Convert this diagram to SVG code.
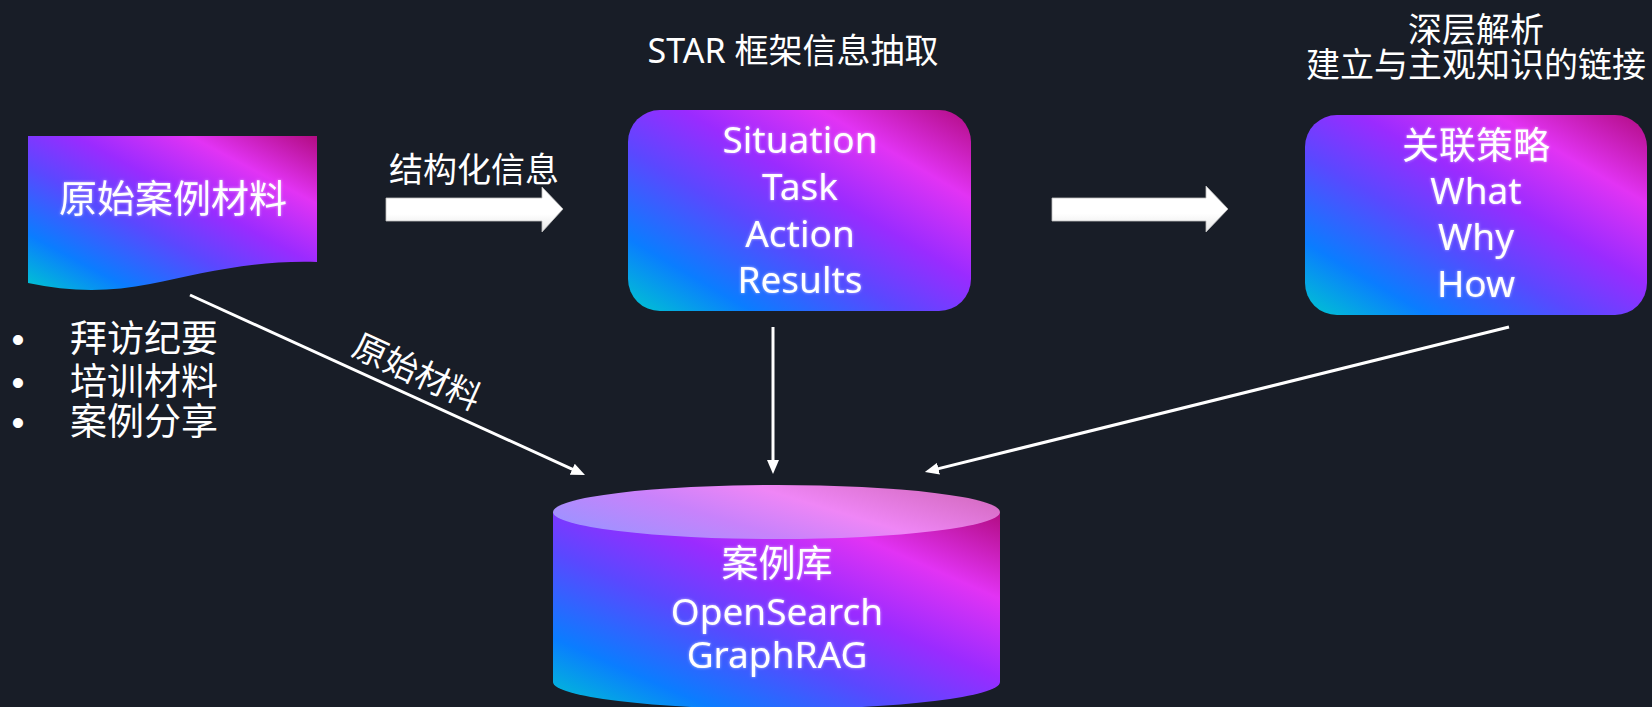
<svg xmlns="http://www.w3.org/2000/svg" width="1652" height="707" viewBox="0 0 1652 707">
<defs>
<linearGradient id="grad" x1="0" y1="1" x2="1" y2="0">
<stop offset="0" stop-color="#00c6cf"/>
<stop offset="0.18" stop-color="#0a7dff"/>
<stop offset="0.40" stop-color="#5a48ff"/>
<stop offset="0.58" stop-color="#9a2bff"/>
<stop offset="0.78" stop-color="#e233f4"/>
<stop offset="1" stop-color="#b20c82"/>
</linearGradient>
<linearGradient id="topgrad" x1="0" y1="0.7" x2="1" y2="0.3">
<stop offset="0" stop-color="#9c93ff"/>
<stop offset="0.35" stop-color="#c882fb"/>
<stop offset="0.62" stop-color="#ef86f6"/>
<stop offset="1" stop-color="#d56cc2"/>
</linearGradient>
<linearGradient id="blk" x1="0" y1="0" x2="0" y2="1">
<stop offset="0" stop-color="#ffffff"/>
<stop offset="0.6" stop-color="#ffffff"/>
<stop offset="1" stop-color="#e6e6e6"/>
</linearGradient>
<filter id="glow" x="-10%" y="-30%" width="120%" height="160%">
<feGaussianBlur in="SourceAlpha" stdDeviation="1.6" result="b"/>
<feFlood flood-color="#ffffff" flood-opacity="0.55"/>
<feComposite in2="b" operator="in" result="g"/>
<feMerge><feMergeNode in="g"/><feMergeNode in="SourceGraphic"/></feMerge>
</filter>
<marker id="ah" viewBox="0 0 14 12" refX="4" refY="6" markerWidth="14" markerHeight="12" markerUnits="userSpaceOnUse" orient="auto">
<path d="M0,0 L14,6 L0,12 Z" fill="#ffffff"/>
</marker>
<style>
text{fill:#ffffff;font-family:"Noto Sans","Noto Sans CJK SC",sans-serif;}
.node{font-size:37px;text-anchor:middle;}
.t34{font-size:34px;text-anchor:middle;}
.glow{filter:url(#glow);}
.line{stroke:#ffffff;stroke-width:3;fill:none;marker-end:url(#ah);}
.blk{fill:url(#blk);stroke:#bfbfbf;stroke-width:0.8;}
.bul{font-family:"Liberation Sans",sans-serif;font-size:37px;text-anchor:middle;}
</style>
</defs>
<rect x="0" y="0" width="1652" height="707" fill="#181d27"/>

<g id="connectors">
<path class="blk" d="M386,198 H542 V187 L563,209 L542,232 V221 H386 Z"/>
<path class="blk" d="M1052,198 H1206 V186 L1228,209 L1206,232 V221 H1052 Z"/>
<line class="line" x1="773" y1="327" x2="773" y2="464"/>
<line class="line" x1="190" y1="295" x2="575.9" y2="470.9"/>
<line class="line" x1="1509" y1="327" x2="934.6" y2="469.6"/>
<text class="t34" x="474" y="182">结构化信息</text>
<text class="t34" transform="translate(412,383) rotate(24.5)" x="0" y="0">原始材料</text>
</g>

<g id="source">
<path d="M28,136 H317 V262 C250,260 200,274 150,284 C110,292 70,292 28,283 Z" fill="url(#grad)"/>
<text class="glow" x="173" y="212" font-size="38" text-anchor="middle">原始案例材料</text>
</g>

<g id="source-list">
<text class="bul" x="18" y="352">•</text>
<text class="bul" x="18" y="395">•</text>
<text class="bul" x="18" y="435">•</text>
<text x="70" y="352" font-size="37">拜访纪要</text>
<text x="70" y="395" font-size="37">培训材料</text>
<text x="70" y="435" font-size="37">案例分享</text>
</g>

<g id="star">
<text class="t34" x="793" y="63">STAR 框架信息抽取</text>
<rect x="628" y="110" width="343" height="201" rx="32" ry="32" fill="url(#grad)"/>
<g class="glow">
<text class="node" x="800" y="153">Situation</text>
<text class="node" x="800" y="200">Task</text>
<text class="node" x="800" y="247">Action</text>
<text class="node" x="800" y="293">Results</text>
</g>
</g>

<g id="strategy">
<text class="t34" x="1476" y="42">深层解析</text>
<text class="t34" x="1476" y="77">建立与主观知识的链接</text>
<rect x="1305" y="115" width="342" height="200" rx="32" ry="32" fill="url(#grad)"/>
<g class="glow">
<text class="node" x="1476" y="159" font-size="38">关联策略</text>
<text class="node" x="1476" y="204">What</text>
<text class="node" x="1476" y="250">Why</text>
<text class="node" x="1476" y="297">How</text>
</g>
</g>

<g id="case-db">
<path d="M553,512 V682 A223.5,27 0 0 0 1000,682 V512 Z" fill="url(#grad)"/>
<ellipse cx="776.5" cy="512" rx="223.5" ry="27" fill="url(#topgrad)"/>
<g class="glow">
<text class="node" x="777" y="577" font-size="38">案例库</text>
<text class="node" x="777" y="625">OpenSearch</text>
<text class="node" x="777" y="668">GraphRAG</text>
</g>
</g>
</svg>
